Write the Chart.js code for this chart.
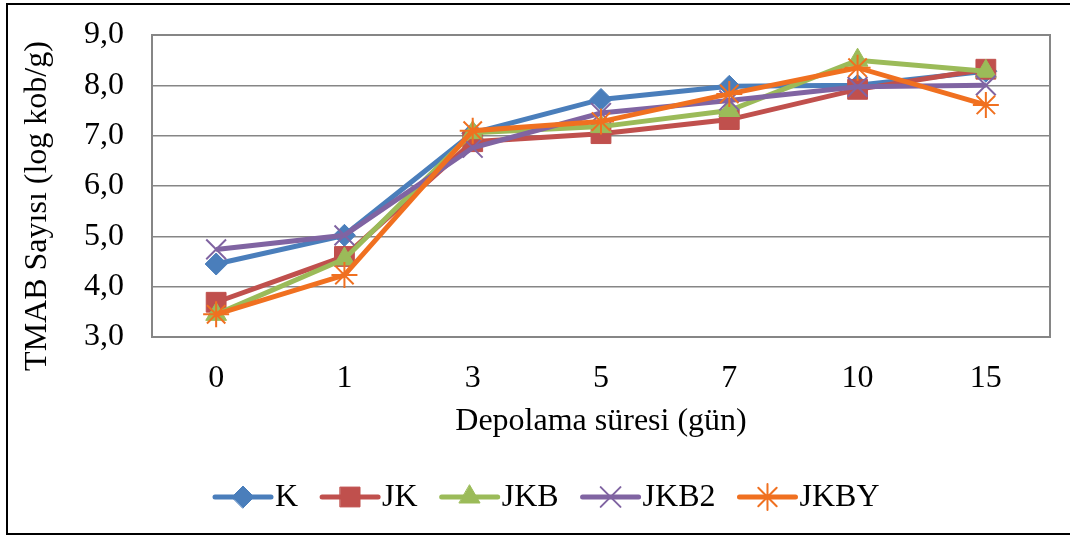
<!DOCTYPE html>
<html>
<head>
<meta charset="utf-8">
<script src="https://cdn.jsdelivr.net/npm/chart.js@4"></script>
<style>
  html, body { margin: 0; padding: 0; background: #fff; }
  #frame { position: absolute; left: 6px; top: 3px; width: 1080px; height: 532px; border: 2px solid #000; box-sizing: border-box; }
  #c { position: absolute; left: 0; top: 0; }
</style>
</head>
<body>
<div id="frame"></div>
<canvas id="c" width="1070" height="538"></canvas>
<script>
const days = ['0', '1', '3', '5', '7', '10', '15'];
const seriesNames = ['K', 'JK', 'JKB', 'JKB2', 'JKBY'];
const valK    = [4.45, 5.02, 7.05, 7.72, 7.98, 8.00, 8.28];
const valJK   = [3.69, 4.60, 6.88, 7.04, 7.32, 7.92, 8.32];
const valJKB  = [3.45, 4.55, 7.06, 7.18, 7.50, 8.50, 8.28];
const valJKB2 = [4.74, 5.02, 6.76, 7.45, 7.70, 7.97, 8.00];
const valJKBY = [3.45, 4.23, 7.10, 7.28, 7.83, 8.35, 7.61];
const yTicks = [3, 4, 5, 6, 7, 8, 9];
const yTitle = 'TMAB Sayısı (log kob/g)';

const colors = ['#4A7EBB', '#C0504D', '#9BBB59', '#8064A2', '#F07020'];
const styles = ['rectRot', 'rect', 'triangle', 'crossRot', 'star'];
const radii = [11, 14, 12, 14, 13];
const values = [valK, valJK, valJKB, valJKB2, valJKBY];

const FONT = '"Liberation Serif", "Times New Roman", serif';
const FS = 32;

const datasets = seriesNames.map((name, i) => ({
  label: name,
  data: values[i],
  borderColor: colors[i],
  backgroundColor: colors[i],
  borderWidth: 5,
  pointStyle: styles[i],
  pointRadius: radii[i],
  pointHoverRadius: radii[i],
  pointBorderWidth: (styles[i] === 'crossRot' || styles[i] === 'star') ? 2 : 1,
  pointBorderColor: colors[i],
  pointBackgroundColor: colors[i],
  tension: 0,
  order: seriesNames.length - i
}));

// plot frame, y title and legend (line with marker)
const extras = {
  id: 'extras',
  afterDraw(chart) {
    const ctx = chart.ctx;
    const a = chart.chartArea;
    ctx.save();
    ctx.strokeStyle = '#868686';
    ctx.lineWidth = 2;
    ctx.strokeRect(a.left, a.top, a.right - a.left, a.bottom - a.top);

    ctx.font = FS + 'px ' + FONT;
    ctx.fillStyle = '#000';
    ctx.textAlign = 'center';
    ctx.textBaseline = 'middle';
    ctx.save();
    ctx.translate(38, 206);
    ctx.rotate(-Math.PI / 2);
    ctx.fillText(yTitle, 0, 0);
    ctx.restore();

    const y = 497;
    let x = 215;
    ctx.textAlign = 'left';
    seriesNames.forEach((name, i) => {
      ctx.strokeStyle = colors[i];
      ctx.lineWidth = 5;
      ctx.lineCap = 'round';
      ctx.beginPath();
      ctx.moveTo(x, y);
      ctx.lineTo(x + 56, y);
      ctx.stroke();
      ctx.fillStyle = colors[i];
      ctx.lineWidth = datasets[i].pointBorderWidth;
      Chart.helpers.drawPoint(ctx, { pointStyle: styles[i], radius: radii[i], rotation: 0, borderWidth: datasets[i].pointBorderWidth }, x + 28, y);
      ctx.fillStyle = '#000';
      ctx.fillText(name, x + 60, y + 1);
      x += 60 + ctx.measureText(name).width + 24;
    });
    ctx.restore();
  }
};

new Chart(document.getElementById('c'), {
  type: 'line',
  data: { labels: days, datasets: datasets },
  plugins: [extras],
  options: {
    responsive: false,
    animation: false,
    devicePixelRatio: 1,
    layout: { padding: { top: 35, right: 20, bottom: 0, left: 0 } },
    plugins: { legend: { display: false }, tooltip: { enabled: false } },
    scales: {
      x: {
        offset: true,
        afterFit(scale) { scale.height = 201; scale.paddingLeft = 0; scale.paddingRight = 0; },
        grid: { display: false, drawTicks: false },
        border: { display: false },
        ticks: { color: '#000', font: { family: FONT, size: FS }, padding: 22 },
        title: { display: true, text: 'Depolama süresi (gün)', color: '#000', font: { family: FONT, size: FS }, padding: { top: 0, bottom: 97 } }
      },
      y: {
        min: 3, max: 9,
        afterFit(scale) { scale.width = 152; scale.paddingTop = 0; scale.paddingBottom = 0; },
        afterBuildTicks(scale) { scale.ticks = yTicks.map(v => ({ value: v })); },
        grid: { color: '#868686', lineWidth: 1.5, drawTicks: false },
        border: { display: false },
        ticks: {
          color: '#000', font: { family: FONT, size: FS }, padding: 28,
          callback: v => v.toFixed(1).replace('.', ',')
        }
      }
    }
  }
});
</script>
</body>
</html>
